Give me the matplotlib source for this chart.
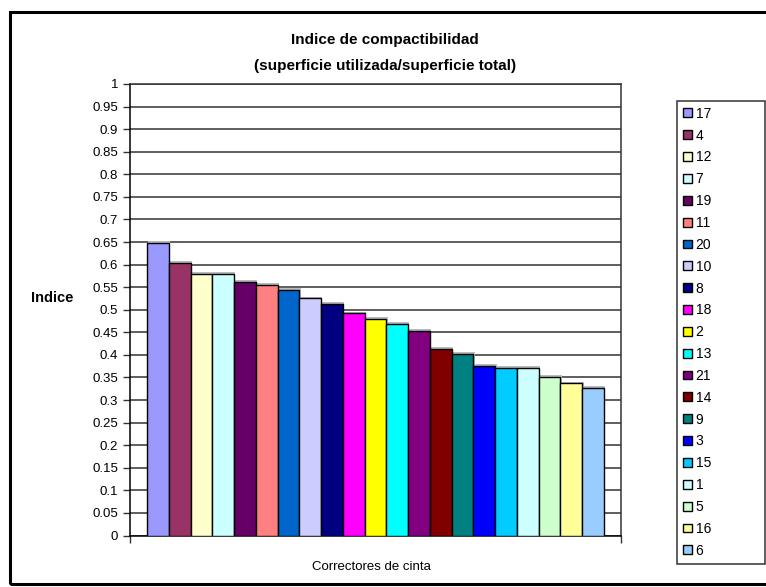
import matplotlib.pyplot as plt
from matplotlib.patches import Patch, Rectangle

plt.rcParams['font.family'] = ['Liberation Sans', 'DejaVu Sans']

# correctores, in the order shown in the chart and legend
labels = ['17', '4', '12', '7', '19', '11', '20', '10', '8', '18', '2',
          '13', '21', '14', '9', '3', '15', '1', '5', '16', '6']
values = [0.648, 0.603, 0.579, 0.579, 0.562, 0.555, 0.544, 0.525, 0.513,
          0.492, 0.480, 0.469, 0.453, 0.414, 0.402, 0.376, 0.371, 0.371,
          0.351, 0.337, 0.327]
colors = ['#9999FF', '#993366', '#FFFFCC', '#CCFFFF', '#660066', '#FF8080',
          '#0066CC', '#CCCCFF', '#000080', '#FF00FF', '#FFFF00', '#00FFFF',
          '#800080', '#800000', '#008080', '#0000FF', '#00CCFF', '#CCFFFF',
          '#CCFFCC', '#FFFF99', '#99CCFF']
yticks = [i * 0.05 for i in range(21)]
ytick_labels = ['0', '0.05', '0.1', '0.15', '0.2', '0.25', '0.3', '0.35', '0.4',
                '0.45', '0.5', '0.55', '0.6', '0.65', '0.7', '0.75', '0.8',
                '0.85', '0.9', '0.95', '1']

W, H = 766, 587
fig = plt.figure(figsize=(W / 100, H / 100), dpi=100)

# chart area frame
fig.patches.append(Rectangle((10 / W, 1 - 584 / H), 1.0, (584 - 12) / H,
                             transform=fig.transFigure, fill=False,
                             edgecolor='black', linewidth=2.2))

ax = fig.add_axes([130 / W, 1 - 535.5 / H, 491 / W, 451.5 / H])

x = list(range(len(values)))
# light shadow behind bars
ax.bar([i + 0.06 for i in x], [v + 0.004 for v in values], width=1.0,
       color='#BBBBBB', edgecolor='none', zorder=2)
ax.bar(x, values, width=1.0, color=colors, edgecolor='black', linewidth=1.0,
       zorder=3)

gap = 0.78
ax.set_xlim(-0.5 - gap, len(values) - 0.5 + gap)
ax.set_ylim(0, 1)
ax.set_yticks(yticks)
ax.set_yticklabels(ytick_labels, fontsize=9.5)
ax.yaxis.grid(True, color='#333333', linewidth=1.1, zorder=0)
ax.set_axisbelow(True)
ax.set_xticks([-0.5 - gap, len(values) - 0.5 + gap])
ax.set_xticklabels(['', ''])
ax.tick_params(axis='both', direction='out', length=5, width=1, color='#333333')
for s in ax.spines.values():
    s.set_color('#333333')
    s.set_linewidth(1.1)
ax.spines['left'].set_color('black')
ax.spines['bottom'].set_color('black')

fig.text(385 / W, 1 - 40 / H, 'Indice de compactibilidad', ha='center',
         va='center', fontsize=11, fontweight='bold')
fig.text(385 / W, 1 - 66 / H, '(superficie utilizada/superficie total)',
         ha='center', va='center', fontsize=11, fontweight='bold')
fig.text(52 / W, 1 - 298 / H, 'Indice', ha='center', va='center',
         fontsize=10.5, fontweight='bold')
fig.text(371 / W, 1 - 567 / H, 'Correctores de cinta', ha='center',
         va='center', fontsize=9.5)

handles = [Patch(facecolor=c, edgecolor='black', linewidth=1.0) for c in colors]
leg = fig.legend(handles, labels, loc='upper left', mode='expand',
                 bbox_to_anchor=(677 / W, 1 - 100.5 / H, 88 / W, 0.0),
                 fontsize=10, frameon=True, fancybox=False, edgecolor='black',
                 handlelength=0.6, handleheight=0.6, handletextpad=0.3,
                 labelspacing=0.565, borderpad=0.45, borderaxespad=0)
leg.get_frame().set_linewidth(1.1)

fig.savefig('out.png', dpi=100)
